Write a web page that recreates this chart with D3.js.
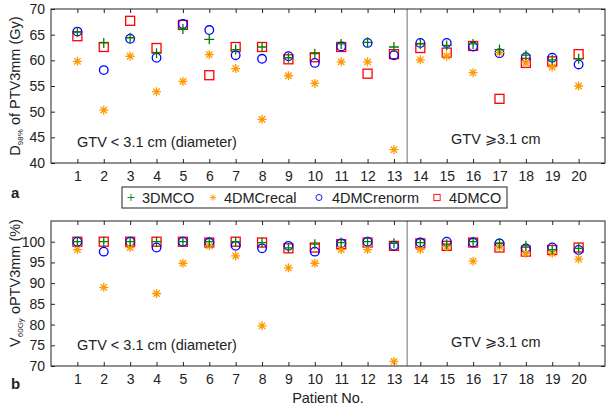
<!DOCTYPE html>
<html>
<head>
<meta charset="utf-8">
<script src="https://cdn.jsdelivr.net/npm/d3@7"></script>
<style>
  body { margin: 0; background: #fff; }
  text { font-family: "Liberation Sans", Arial, sans-serif; fill: #222; }
</style>
</head>
<body>
<svg width="609" height="406"></svg>
<script>
var w = 609, h = 406;

var patients = d3.range(1, 21);

// panel a: D98% of PTV3mm (Gy)
var dose_3dmco    = [65.5, 63.4, 64.4, 61.4, 66.1, 64.1, 62.1, 62.6, 60.5, 61.3, 63.2, 63.5, 62.6, 63.2, 62.9, 63.2, 62.1, 61.0, 60.1, 60.3];
var dose_recal    = [59.8, 50.3, 60.8, 53.9, 55.9, 61.1, 58.4, 48.5, 57.0, 55.5, 59.7, 59.7, 42.6, 60.1, 60.8, 57.6, 61.5, 59.5, 58.7, 55.0];
var dose_renorm   = [65.6, 58.1, 64.2, 60.5, 67.1, 65.9, 61.0, 60.3, 60.8, 59.5, 62.7, 63.4, 61.0, 63.4, 63.4, 62.7, 61.4, 60.6, 60.5, 59.2];
var dose_4dmco    = [64.7, 62.6, 67.7, 62.4, 66.9, 57.1, 62.6, 62.6, 60.2, 60.6, 62.6, 57.4, 61.2, 62.4, 61.5, 62.8, 52.5, 59.5, 59.8, 61.2];

// panel b: V60Gy oPTV3mm (%)
var vol_3dmco     = [100, 100, 100, 100, 100, 100, 100, 99.8, 98.5, 99.4, 99.8, 100, 99.6, 99.8, 99.4, 100, 99.6, 99.0, 98.1, 98.4];
var vol_recal     = [98.1, 89.0, 98.6, 87.5, 94.8, 99.0, 96.6, 79.7, 93.7, 94.8, 98.1, 98.1, 71.1, 98.1, 98.8, 95.3, 98.8, 97.2, 97.2, 95.8];
var vol_renorm    = [100, 97.6, 100, 98.6, 100, 99.8, 99.0, 98.4, 99.0, 97.6, 99.6, 100, 99.0, 99.8, 100, 99.8, 99.6, 98.4, 98.6, 98.0];
var vol_4dmco     = [100, 100, 100, 100, 100, 99.8, 100, 99.8, 98.4, 98.6, 99.4, 99.8, 99.0, 99.6, 99.0, 99.8, 98.6, 97.6, 98.0, 98.6];

var series_names = ["3DMCO", "4DMCrecal", "4DMCrenorm", "4DMCO"];
var dose_ticks = [40, 45, 50, 55, 60, 65, 70];
var vol_ticks = [70, 75, 80, 85, 90, 95, 100];

var svg = d3.select("svg");

var x = d3.scaleLinear().domain([0, 21]).range([51, 605]);

var styles = {
  "3DMCO":      {color: "#008000", shape: "plus"},
  "4DMCrecal":  {color: "#ff9900", shape: "star"},
  "4DMCrenorm": {color: "#0000ff", shape: "circle"},
  "4DMCO":      {color: "#ff0000", shape: "square"}
};

function marker(g, shape, color) {
  if (shape == "plus") {
    g.append("path").attr("d", "M-5,0H5M0,-5V5")
      .attr("stroke", color).attr("stroke-width", 1.3).attr("fill", "none");
  } else if (shape == "star") {
    g.append("path").attr("d", "M-4.5,0H4.5M0,-4.5V4.5M-3.2,-3.2L3.2,3.2M-3.2,3.2L3.2,-3.2")
      .attr("stroke", color).attr("stroke-width", 1.3).attr("fill", "none");
  } else if (shape == "circle") {
    g.append("circle").attr("r", 4.3)
      .attr("stroke", color).attr("stroke-width", 1.3).attr("fill", "none");
  } else {
    g.append("rect").attr("x", -4.5).attr("y", -4.5).attr("width", 9).attr("height", 9)
      .attr("stroke", color).attr("stroke-width", 1.3).attr("fill", "none");
  }
}

function panel(y, ticks, seriesData, top, bottom, letter, letterY) {
  var g = svg.append("g");

  // divider between size groups
  g.append("line")
    .attr("x1", x(13.5)).attr("x2", x(13.5))
    .attr("y1", top).attr("y2", bottom)
    .attr("stroke", "#888").attr("stroke-width", 1.2);

  // box
  g.append("rect")
    .attr("x", x(0)).attr("y", top)
    .attr("width", x(21) - x(0)).attr("height", bottom - top)
    .attr("fill", "none").attr("stroke", "#222").attr("stroke-width", 1);

  var axB = g.append("g").attr("transform", "translate(0," + bottom + ")")
    .call(d3.axisBottom(x).tickValues(patients).tickSizeInner(-4).tickSizeOuter(0).tickPadding(8));
  var axT = g.append("g").attr("transform", "translate(0," + top + ")")
    .call(d3.axisTop(x).tickValues(patients).tickSizeInner(-4).tickSizeOuter(0).tickFormat(""));
  var axL = g.append("g").attr("transform", "translate(" + x(0) + ",0)")
    .call(d3.axisLeft(y).tickValues(ticks).tickSizeInner(-4).tickSizeOuter(0).tickPadding(6));
  var axR = g.append("g").attr("transform", "translate(" + x(21) + ",0)")
    .call(d3.axisRight(y).tickValues(ticks).tickSizeInner(-4).tickSizeOuter(0).tickFormat(""));

  [axB, axT, axL, axR].forEach(function(a) {
    a.select(".domain").remove();
    a.selectAll("line").attr("stroke", "#222");
    a.selectAll("text").attr("font-size", 14).attr("fill", "#222")
      .style("font-family", "'Liberation Sans', Arial, sans-serif");
  });

  // points, drawn in the order the series overlap in the original
  [3, 2, 1, 0].forEach(function(si) {
    var name = series_names[si];
    var st = styles[name];
    g.append("g").selectAll("g")
      .data(seriesData[si])
      .enter()
      .append("g")
      .attr("transform", function(d, i) { return "translate(" + x(patients[i]) + "," + y(d) + ")"; })
      .each(function() { marker(d3.select(this), st.shape, st.color); });
  });

  g.append("text").attr("x", 77).attr("y", bottom - 16)
    .attr("font-size", 14.5).text("GTV < 3.1 cm (diameter)");
  g.append("text").attr("x", 451).attr("y", bottom - 19)
    .attr("font-size", 14.5)
    .html('GTV <tspan style="font-family:\'DejaVu Sans\'">⩾</tspan>3.1 cm');

  svg.append("text").attr("x", 11).attr("y", letterY)
    .attr("font-size", 15).attr("font-weight", "bold").text(letter);
}

var yTop = d3.scaleLinear().domain([40, 70]).range([163, 9]);
var yBot = d3.scaleLinear().domain([70, 105]).range([366, 221]);

panel(yTop, dose_ticks, [dose_3dmco, dose_recal, dose_renorm, dose_4dmco], 9, 163, "a", 198);
panel(yBot, vol_ticks, [vol_3dmco, vol_recal, vol_renorm, vol_4dmco], 221, 366, "b", 389);

// y labels
var yl1 = svg.append("text")
  .attr("transform", "translate(20,86) rotate(-90)")
  .attr("text-anchor", "middle").attr("font-size", 14.5);
yl1.append("tspan").text("D");
yl1.append("tspan").attr("font-size", 8).attr("dy", 3).text("98%");
yl1.append("tspan").attr("dy", -3).text(" of PTV3mm (Gy)");

var yl2 = svg.append("text")
  .attr("transform", "translate(20,283) rotate(-90)")
  .attr("text-anchor", "middle").attr("font-size", 14.5);
yl2.append("tspan").text("V");
yl2.append("tspan").attr("font-size", 8).attr("dy", 3).text("60Gy");
yl2.append("tspan").attr("dy", -3).text(" oPTV3mm (%)");

svg.append("text").attr("x", (x(0) + x(21)) / 2).attr("y", 403)
  .attr("text-anchor", "middle").attr("font-size", 14.5).text("Patient No.");

// legend
var leg = svg.append("g");
leg.append("rect").attr("x", 122).attr("y", 187).attr("width", 385).attr("height", 21)
  .attr("fill", "#fff").attr("stroke", "#222").attr("stroke-width", 1);
var legX = [131, 213, 319, 437];
var legTextOff = [11, 11, 13, 12];
series_names.forEach(function(name, i) {
  var st = styles[name];
  var item = leg.append("g").attr("transform", "translate(" + legX[i] + ",197.5)");
  var m = item.append("g").attr("transform", "scale(0.7)");
  marker(m, st.shape, st.color);
  item.append("text").attr("x", legTextOff[i]).attr("y", 5.5).attr("font-size", 14.5).text(name);
});
</script>
</body>
</html>
